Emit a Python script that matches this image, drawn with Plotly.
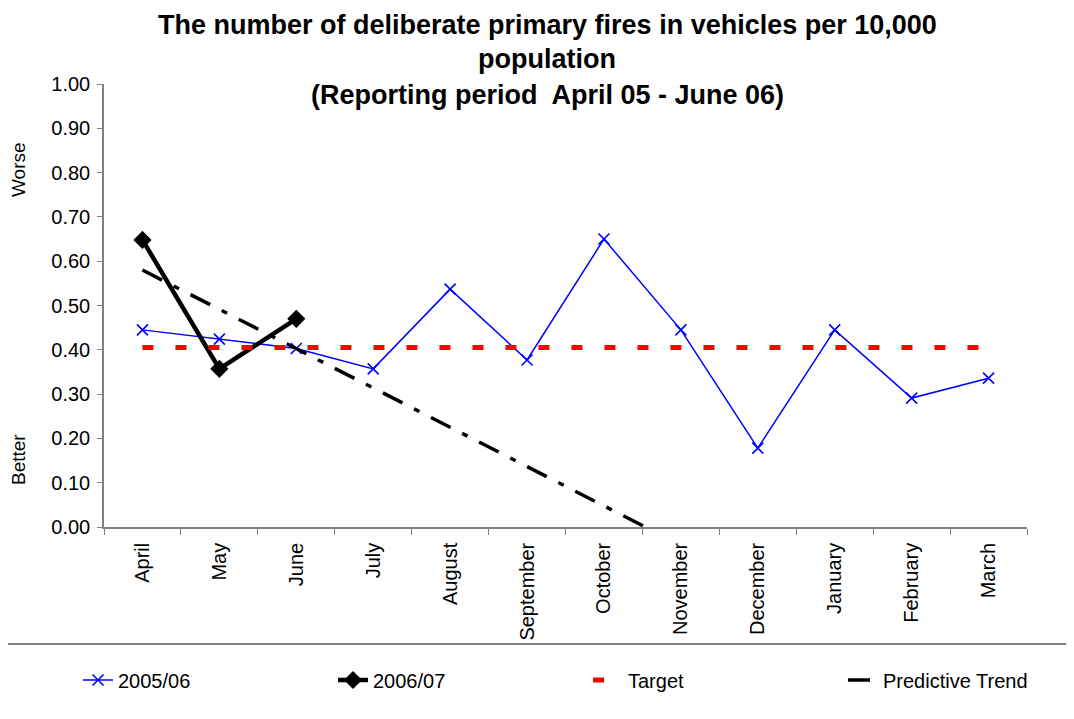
import plotly.graph_objects as go

# datos
MESES = ["April", "May", "June", "July", "August", "September", "October",
         "November", "December", "January", "February", "March"]
SERIE_0506 = [0.445, 0.424, 0.403, 0.357, 0.537, 0.377, 0.650,
              0.445, 0.178, 0.445, 0.291, 0.336]
SERIE_0607 = [0.648, 0.357, 0.470]
OBJETIVO = [0.405] * 12
TENDENCIA = [0.58, 0.491, 0.402, 0.314, 0.225, 0.136, 0.047, -0.041]

FUENTE = "Liberation Sans, Arial, sans-serif"
OFF = 8  # margen del body de la pagina
W, H = 1074 - OFF, 719 - OFF
IZQ, DER, ARR, ABA = 104, 1027, 84, 527  # area de trazado en pixeles (pantalla)


def px_x(p):
    return (p - IZQ) / (DER - IZQ)


def px_y(p):
    return (ABA - p) / (ABA - ARR)


fig = go.Figure()
fig.add_trace(go.Scatter(
    x=MESES, y=SERIE_0506, name="2005/06", mode="lines+markers",
    line=dict(color="#0000FF", width=1.5),
    marker=dict(symbol="x-thin", size=11, color="#0000FF",
                line=dict(color="#0000FF", width=1.6)),
))
fig.add_trace(go.Scatter(
    x=MESES[:len(SERIE_0607)], y=SERIE_0607, name="2006/07", mode="lines+markers",
    line=dict(color="black", width=4.5),
    marker=dict(symbol="diamond", size=14, color="black"),
))
fig.add_trace(go.Scatter(
    x=MESES, y=OBJETIVO, name="Target", mode="lines",
    line=dict(color="#FF0000", width=5, dash="11px,22px"),
))
fig.add_trace(go.Scatter(
    x=MESES[:len(TENDENCIA)], y=TENDENCIA, name="Predictive Trend", mode="lines",
    line=dict(color="black", width=3.5, dash="22px,13px,6px,13px"),
))

titulos = ["The number of deliberate primary fires in vehicles per 10,000",
           "population",
           "(Reporting period  April 05 - June 06)"]
for txt, yy in zip(titulos, [25, 59, 95]):
    fig.add_annotation(text=f"<b>{txt}</b>", xref="paper", yref="paper",
                       x=px_x(547), y=px_y(yy), xanchor="center", yanchor="middle",
                       showarrow=False, borderpad=0,
                       font=dict(size=27, color="black", family=FUENTE))

for txt, yy in [("Worse", 170), ("Better", 460)]:
    fig.add_annotation(text=txt, xref="paper", yref="paper", x=px_x(18), y=px_y(yy),
                       xanchor="center", yanchor="middle", textangle=-90,
                       showarrow=False, font=dict(size=19, color="black", family=FUENTE))

fig.add_shape(type="line", xref="paper", yref="paper",
              x0=px_x(0), x1=px_x(1074), y0=px_y(644), y1=px_y(644),
              line=dict(color="#808080", width=2))

fig.update_layout(
    width=W, height=H, template="plotly_white",
    plot_bgcolor="white", paper_bgcolor="white",
    margin=dict(l=IZQ - OFF, r=1074 - DER, t=ARR - OFF, b=719 - ABA, autoexpand=False),
    font=dict(family=FUENTE, size=20, color="black"),
    showlegend=True,
    legend=dict(orientation="h", x=px_x(78), y=px_y(680), xanchor="left", yanchor="middle",
                entrywidth=210, entrywidthmode="pixels", font=dict(size=20),
                bgcolor="rgba(0,0,0,0)"),
    xaxis=dict(type="category", tickson="boundaries", ticks="outside", ticklen=6,
               tickcolor="#808080", showline=True, linecolor="#808080", linewidth=1.5,
               showgrid=False, tickangle=-90, zeroline=False, ticklabelstandoff=6,
               range=[-0.5, len(MESES) - 0.5]),
    yaxis=dict(range=[0, 1], dtick=0.1, tickformat=".2f", ticks="outside", ticklen=5,
               tickcolor="#808080", showline=True, linecolor="#808080", linewidth=1.5,
               showgrid=False, zeroline=False, ticklabelstandoff=3),
)

fig.write_html("out.html")
